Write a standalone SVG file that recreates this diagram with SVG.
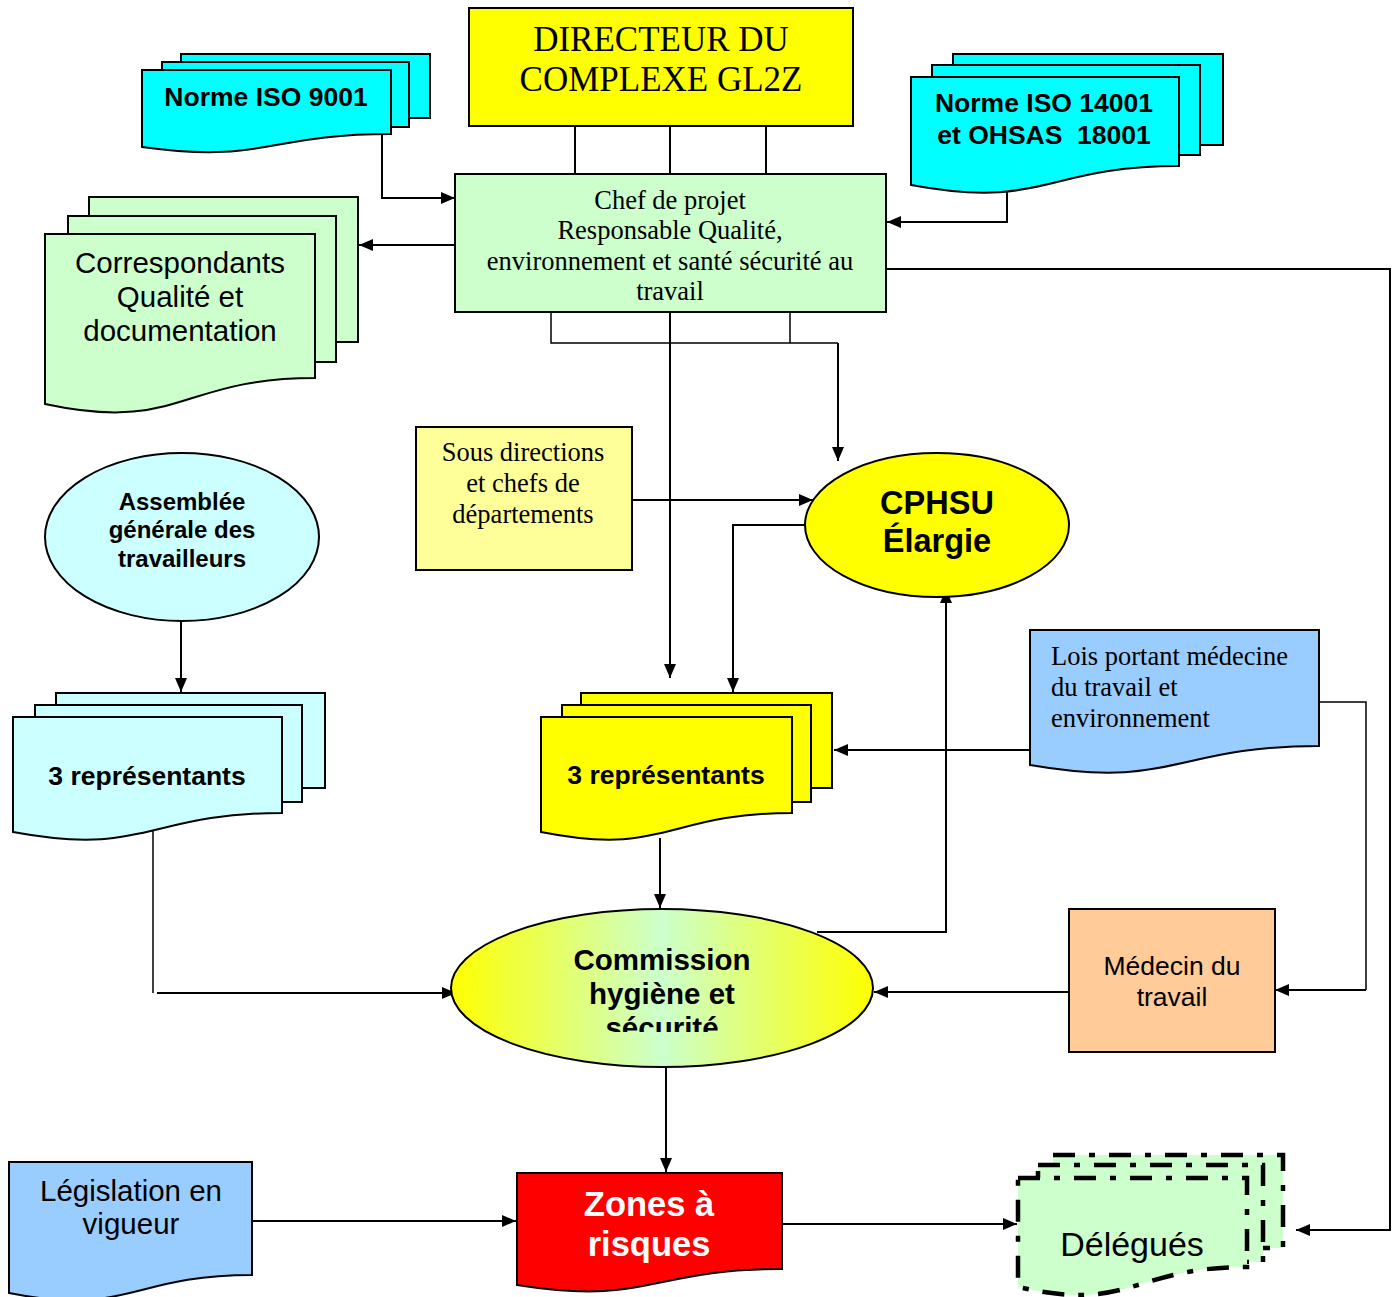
<svg xmlns="http://www.w3.org/2000/svg" width="1399" height="1297" viewBox="0 0 1399 1297">
  <style>
    .box { stroke: #000; stroke-width: 2; }
    .serif { font-family: "Liberation Serif", "Times New Roman", serif; fill: #000; }
    .sans { font-family: "Liberation Sans", Arial, sans-serif; fill: #000; }
    .bold { font-weight: bold; }
    .wire { fill: none; stroke: #000; stroke-width: 2; }
    .dash { stroke: #000; stroke-width: 4.5; stroke-dasharray: 22 14 6 14; }
  </style>
  <defs>
    <marker id="arrow" viewBox="0 0 14 12" refX="14" refY="6" markerWidth="14" markerHeight="12" markerUnits="userSpaceOnUse" orient="auto">
      <path d="M0,0 L14,6 L0,12 Z" fill="#000"/>
    </marker>
    <linearGradient id="chsGrad" x1="0" y1="0" x2="1" y2="0">
      <stop offset="0" stop-color="#FFFF00"/>
      <stop offset="0.5" stop-color="#CCFFCC"/>
      <stop offset="1" stop-color="#FFFF00"/>
    </linearGradient>
    <clipPath id="chsClip">
      <rect x="451" y="909" width="422" height="123"/>
    </clipPath>
  </defs>

  <rect width="1399" height="1297" fill="#fff"/>

  <!-- connectors -->
  <g id="connectors">
    <line class="wire" x1="575" y1="126" x2="575" y2="174"/>
    <line class="wire" x1="670" y1="126" x2="670" y2="174"/>
    <line class="wire" x1="766" y1="126" x2="766" y2="174"/>
    <polyline class="wire" points="382,134 382,198 455,198" marker-end="url(#arrow)"/>
    <polyline class="wire" points="1007,180 1007,222 887,222" marker-end="url(#arrow)"/>
    <line class="wire" x1="455" y1="245" x2="359" y2="245" marker-end="url(#arrow)"/>
    <polyline class="wire" points="886,269 1390,269 1390,1230 1296,1230" marker-end="url(#arrow)"/>
    <polyline class="wire" style="stroke-width:1.5" points="551,312 551,343 838,343"/>
    <line class="wire" style="stroke-width:1.5" x1="790" y1="312" x2="790" y2="343"/>
    <line class="wire" x1="838" y1="343" x2="838" y2="461" marker-end="url(#arrow)"/>
    <line class="wire" x1="670" y1="312" x2="670" y2="678" marker-end="url(#arrow)"/>
    <line class="wire" x1="632" y1="500" x2="813" y2="500" marker-end="url(#arrow)"/>
    <polyline class="wire" points="806,525 733,525 733,692" marker-end="url(#arrow)"/>
    <line class="wire" x1="1031" y1="750" x2="834" y2="750" marker-end="url(#arrow)"/>
    <polyline class="wire" style="stroke-width:1.5" points="1319,702 1366,702 1366,990"/>
    <line class="wire" x1="1366" y1="990" x2="1275" y2="990" marker-end="url(#arrow)"/>
    <line class="wire" x1="1069" y1="992" x2="874" y2="992" marker-end="url(#arrow)"/>
    <polyline class="wire" points="817,932 946,932 946,589" marker-end="url(#arrow)"/>
    <line class="wire" x1="660" y1="838" x2="660" y2="908" marker-end="url(#arrow)"/>
    <line class="wire" x1="181" y1="621" x2="181" y2="692" marker-end="url(#arrow)"/>
    <line class="wire" style="stroke-width:1.5" x1="153" y1="830" x2="153" y2="993"/>
    <line class="wire" x1="157" y1="993" x2="456" y2="993" marker-end="url(#arrow)"/>
    <line class="wire" x1="666" y1="1066" x2="666" y2="1172" marker-end="url(#arrow)"/>
    <line class="wire" x1="253" y1="1221" x2="516" y2="1221" marker-end="url(#arrow)"/>
    <line class="wire" x1="782" y1="1224" x2="1017" y2="1224" marker-end="url(#arrow)"/>
  </g>

  <!-- DIRECTEUR -->
  <g id="directeur">
    <rect class="box" x="469" y="8" width="384" height="118" fill="#FFFF00"/>
    <text class="serif" x="661" y="51" font-size="35" text-anchor="middle">DIRECTEUR DU</text>
    <text class="serif" x="661" y="91" font-size="35" text-anchor="middle">COMPLEXE GL2Z</text>
  </g>

  <!-- Chef de projet -->
  <g id="chef-projet">
    <rect class="box" x="455" y="174" width="431" height="138" fill="#CCFFCC"/>
    <g class="serif" font-size="26.5" text-anchor="middle">
      <text x="670" y="209">Chef de projet</text>
      <text x="670" y="239">Responsable Qualité,</text>
      <text x="670" y="270">environnement et santé sécurité au</text>
      <text x="670" y="300">travail</text>
    </g>
  </g>

  <!-- Norme ISO 9001 -->
  <g id="iso9001">
    <rect class="box" x="181" y="54" width="249" height="64" fill="#00FFFF"/>
    <rect class="box" x="162" y="62" width="247" height="65" fill="#00FFFF"/>
    <path class="box" d="M142,70 H391 V134 C266,134 266,164 142,147 Z" fill="#00FFFF"/>
    <text class="sans bold" x="266" y="106" font-size="26.5" text-anchor="middle">Norme ISO 9001</text>
  </g>

  <!-- Norme ISO 14001 -->
  <g id="iso14001">
    <rect class="box" x="953" y="54" width="270" height="91" fill="#00FFFF"/>
    <rect class="box" x="932" y="65" width="268" height="90" fill="#00FFFF"/>
    <path class="box" d="M911,77 H1179 V166 C1045,166 1045,210 911,185 Z" fill="#00FFFF"/>
    <text class="sans bold" x="1044" y="112" font-size="26.5" text-anchor="middle">Norme ISO 14001</text>
    <text class="sans bold" x="1044" y="144" font-size="26.5" text-anchor="middle" xml:space="preserve">et OHSAS  18001</text>
  </g>

  <!-- Correspondants -->
  <g id="correspondants">
    <rect class="box" x="89" y="197" width="269" height="145" fill="#CCFFCC"/>
    <rect class="box" x="68" y="216" width="268" height="146" fill="#CCFFCC"/>
    <path class="box" d="M45,234 H315 V378 C180,378 180,433 45,404 Z" fill="#CCFFCC"/>
    <g class="sans" font-size="29.5" text-anchor="middle">
      <text x="180" y="273">Correspondants</text>
      <text x="180" y="307">Qualité et</text>
      <text x="180" y="341">documentation</text>
    </g>
  </g>

  <!-- Sous directions -->
  <g id="sous-directions">
    <rect class="box" x="416" y="427" width="216" height="143" fill="#FFFF99"/>
    <g class="serif" font-size="26.5" text-anchor="middle">
      <text x="523" y="461">Sous directions</text>
      <text x="523" y="492">et chefs de</text>
      <text x="523" y="523">départements</text>
    </g>
  </g>

  <!-- CPHSU Élargie -->
  <g id="cphsu">
    <ellipse class="box" cx="937" cy="525" rx="132" ry="72" fill="#FFFF00"/>
    <text class="sans bold" x="937" y="514" font-size="32.5" text-anchor="middle">CPHSU</text>
    <text class="sans bold" x="937" y="552" font-size="32.5" text-anchor="middle">Élargie</text>
  </g>

  <!-- Assemblée générale -->
  <g id="assemblee">
    <ellipse class="box" cx="182" cy="537" rx="137" ry="84" fill="#CCFFFF"/>
    <g class="sans bold" font-size="24" text-anchor="middle">
      <text x="182" y="510">Assemblée</text>
      <text x="182" y="538">générale des</text>
      <text x="182" y="567">travailleurs</text>
    </g>
  </g>

  <!-- 3 représentants (travailleurs) -->
  <g id="representants-travailleurs">
    <rect class="box" x="56" y="693" width="269" height="95" fill="#CCFFFF"/>
    <rect class="box" x="35" y="705" width="267" height="97" fill="#CCFFFF"/>
    <path class="box" d="M13,717 H282 V813 C147,813 147,857 13,832 Z" fill="#CCFFFF"/>
    <text class="sans bold" x="147" y="785" font-size="26.5" text-anchor="middle">3 représentants</text>
  </g>

  <!-- 3 représentants (direction) -->
  <g id="representants-direction">
    <rect class="box" x="581" y="693" width="251" height="95" fill="#FFFF00"/>
    <rect class="box" x="562" y="705" width="249" height="97" fill="#FFFF00"/>
    <path class="box" d="M541,717 H792 V813 C666,813 666,857 541,832 Z" fill="#FFFF00"/>
    <text class="sans bold" x="666" y="784" font-size="26.5" text-anchor="middle">3 représentants</text>
  </g>

  <!-- Lois -->
  <g id="lois">
    <path class="box" d="M1030,630 H1319 V746 C1174,746 1174,790 1030,765 Z" fill="#99CCFF"/>
    <g class="serif" font-size="26.5">
      <text x="1051" y="665">Lois portant médecine</text>
      <text x="1051" y="696">du travail et</text>
      <text x="1051" y="727">environnement</text>
    </g>
  </g>

  <!-- Médecin du travail -->
  <g id="medecin">
    <rect class="box" x="1069" y="909" width="206" height="143" fill="#FFCC99"/>
    <text class="sans" x="1172" y="975" font-size="26.5" text-anchor="middle">Médecin du</text>
    <text class="sans" x="1172" y="1006" font-size="26.5" text-anchor="middle">travail</text>
  </g>

  <!-- Commission hygiène et sécurité -->
  <g id="commission">
    <ellipse class="box" cx="662" cy="988" rx="211" ry="79" fill="url(#chsGrad)"/>
    <g class="sans bold" font-size="29.5" text-anchor="middle" clip-path="url(#chsClip)">
      <text x="662" y="970">Commission</text>
      <text x="662" y="1004">hygiène et</text>
      <text x="662" y="1038">sécurité</text>
    </g>
  </g>

  <!-- Législation en vigueur -->
  <g id="legislation">
    <path class="box" d="M9,1162 H252 V1275 C130,1275 130,1317 9,1293 Z" fill="#99CCFF"/>
    <text class="sans" x="131" y="1201" font-size="29.5" text-anchor="middle">Législation en</text>
    <text class="sans" x="131" y="1234" font-size="29.5" text-anchor="middle">vigueur</text>
  </g>

  <!-- Zones à risques -->
  <g id="zones">
    <path class="box" d="M517,1173 H782 V1269 C649,1269 649,1306 517,1285 Z" fill="#FF0000"/>
    <text class="sans bold" x="649" y="1216" font-size="34.5" text-anchor="middle" style="fill:#fff">Zones à</text>
    <text class="sans bold" x="649" y="1256" font-size="34.5" text-anchor="middle" style="fill:#fff">risques</text>
  </g>

  <!-- Délégués -->
  <g id="delegues">
    <rect class="dash" x="1053" y="1155" width="230" height="93" fill="#CCFFCC"/>
    <rect class="dash" x="1038" y="1165" width="225" height="97" fill="#CCFFCC"/>
    <path class="dash" d="M1018,1178 H1247 V1267 C1132,1267 1132,1313 1018,1287 Z" fill="#CCFFCC"/>
    <text class="sans" x="1132" y="1256" font-size="34" text-anchor="middle">Délégués</text>
  </g>
</svg>
